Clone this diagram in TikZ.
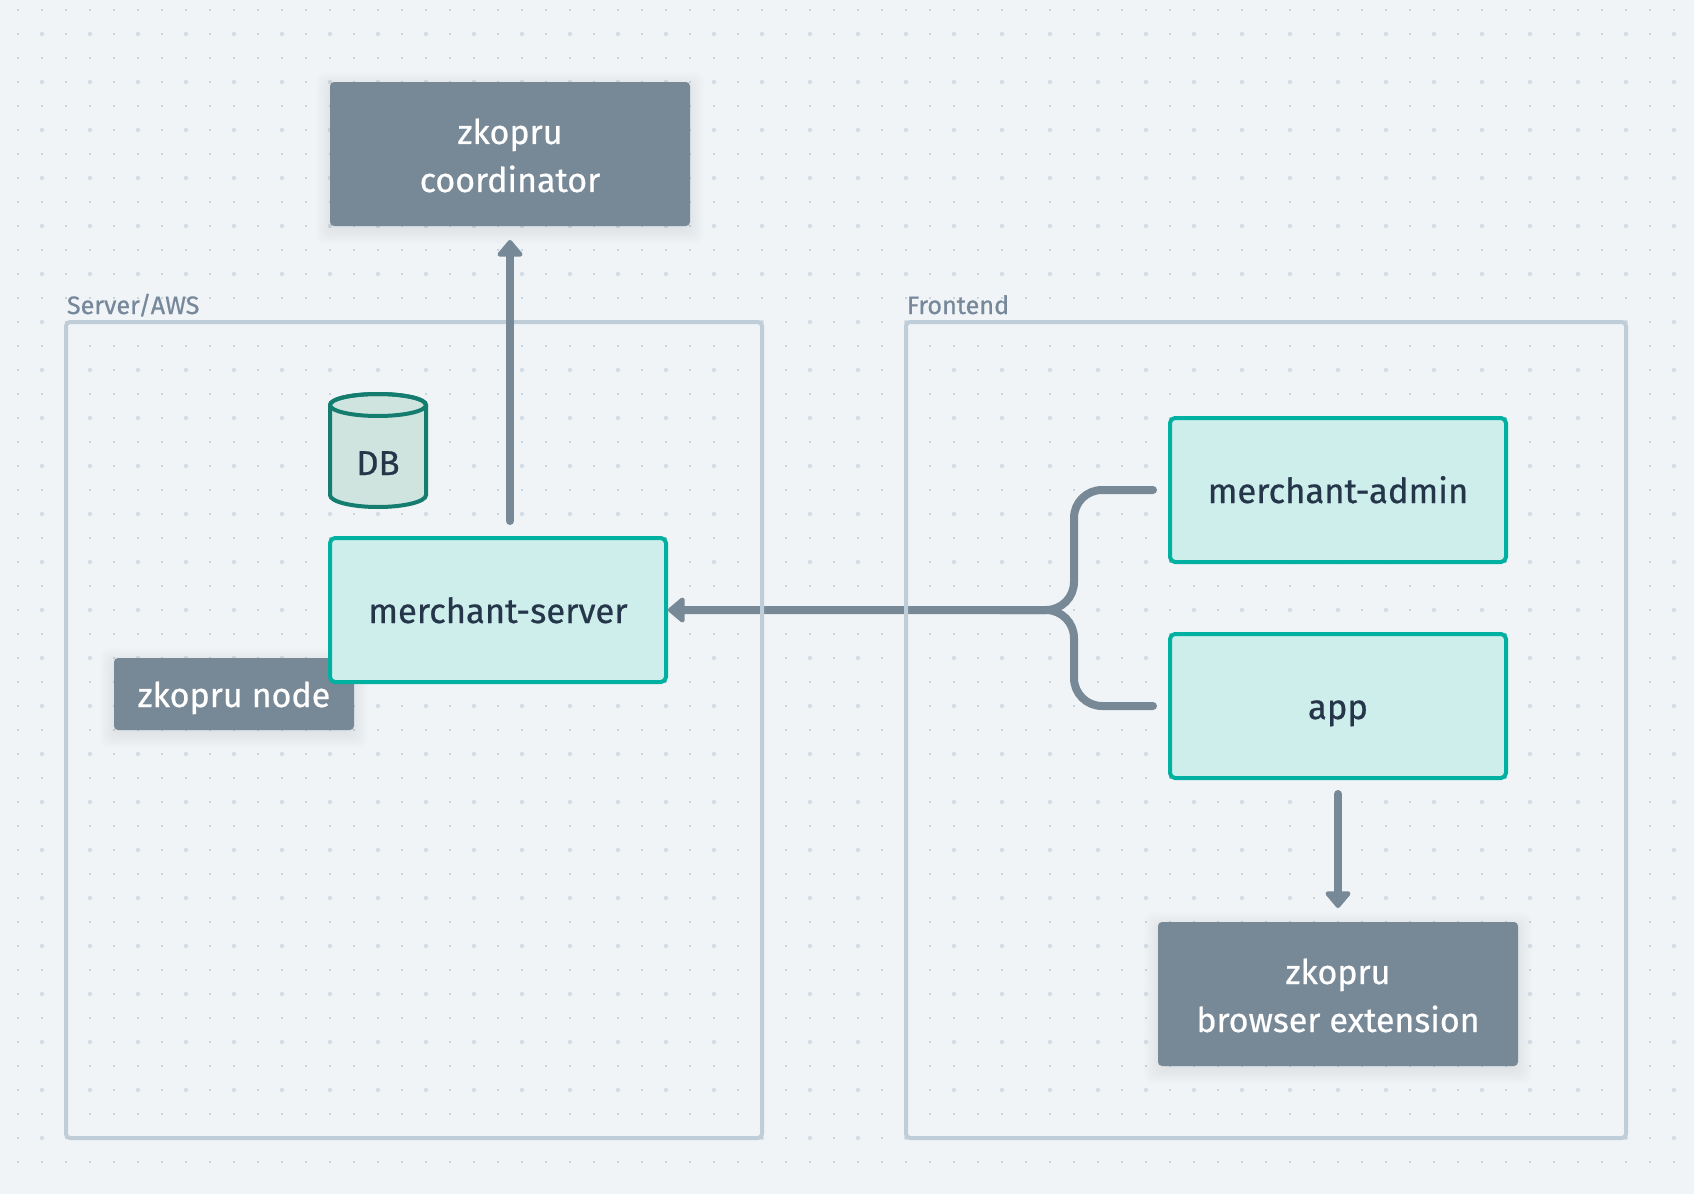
\documentclass[tikz,border=0pt]{standalone}
\usepackage{fontspec}
\setmainfont{Fira Sans}[FakeBold=0.6]
\usetikzlibrary{arrows.meta}
\definecolor{bgc}{HTML}{F0F4F7}
\definecolor{dotc}{HTML}{CBD5DF}
\definecolor{bigdotc}{HTML}{D3DDE7}
\definecolor{slatec}{HTML}{778896}
\definecolor{tealc}{HTML}{00B0A0}
\definecolor{tealfill}{HTML}{CEEEEC}
\definecolor{framec}{HTML}{BFCDD8}
\definecolor{inkc}{HTML}{25364A}
\definecolor{labelc}{HTML}{76889A}
\definecolor{dbline}{HTML}{147D6F}
\definecolor{dbfill}{HTML}{CFE4DF}
\newcommand{\softshadow}[4]{%
  \foreach \g in {-4,-2,...,14}
    \fill[black,opacity=0.009,rounded corners=4pt]
      (#1-\g,#2-\g+4) rectangle (#3+\g,#4+\g+4);}
\tikzset{
  graybox/.style={rectangle,fill=slatec,rounded corners=2pt,inner sep=0pt,outer sep=0pt,
    text=white,font=\fontsize{17}{24}\selectfont,align=center},
  tealbox/.style={rectangle,draw=tealc,fill=tealfill,line width=2pt,rounded corners=2.5pt,
    inner sep=0pt,text=inkc,font=\fontsize{17.3}{24}\selectfont,
    minimum width=168pt,minimum height=72pt,text height=13pt,text depth=0pt},
  groupframe/.style={rectangle,draw=framec,line width=2pt,rounded corners=2pt,inner sep=0pt},
  grouplabel/.style={anchor=base west,inner sep=0pt,text=labelc,font=\fontsize{12.6}{14}\selectfont},
  conn/.style={draw=slatec,line width=4pt,line cap=round},
  tip/.style={-{Triangle[length=9pt,width=14.5pt,round]}},
}
\begin{document}
\begin{tikzpicture}[x=0.5pt,y=-0.5pt]
\useasboundingbox (0,0) rectangle (1694,1194);
\fill[bgc] (0,0) rectangle (1694,1194);
% dot grid
\foreach \x in {18,42,...,1674}
  \foreach \y in {10,34,...,1162}
    \fill[dotc] (\x-1,\y-1) rectangle ++(2,2);
\foreach \x in {42,90,...,1674}
  \foreach \y in {34,82,...,1162}
    \fill[bigdotc] (\x,\y) circle (1.1pt);
% shadows
\softshadow{330}{82}{690}{226}
\softshadow{114}{658}{354}{730}
\softshadow{1158}{922}{1518}{1066}
% gray boxes
\node[graybox,minimum width=180pt,minimum height=72pt] (coordinator) at (510,154) {\rule{0pt}{14.2pt}zkopru\\coordinator};
\node[graybox,minimum width=120pt,minimum height=36pt,text height=13pt,text depth=0pt] (zknode) at (234,694) {zkopru node};
\node[graybox,minimum width=180pt,minimum height=72pt] (extension) at (1338,994) {\rule{0pt}{14.2pt}zkopru\\browser extension};
% teal boxes
\node[tealbox] (server) at (498,610) {merchant-server};
\node[tealbox] (admin) at (1338,490) {merchant-admin};
\node[tealbox] (app) at (1338,706) {app};
% database
\draw[draw=dbline,fill=dbfill,line width=2pt] (330,405) -- (330,495)
  arc[start angle=180,end angle=360,x radius=24pt,y radius=6pt] -- (426,405)
  arc[start angle=0,end angle=180,x radius=24pt,y radius=5.5pt] -- cycle;
\draw[draw=dbline,line width=2pt] (378,405) ellipse[x radius=24pt,y radius=5.5pt];
\node[inner sep=0pt,anchor=base,text=inkc,font=\fontsize{17.3}{24}\selectfont] (db) at (378,475) {DB};
% connectors under the frames
\coordinate (junction) at (1074,610);
\draw[conn,rounded corners=14pt,tip,shorten <=7.5pt] (admin.west) -| (junction) -- (server.east);
\draw[conn,rounded corners=14pt,shorten <=7.5pt] (app.west) -| (junction) -- (1000,610);
% group frames
\node[groupframe,minimum width=348pt,minimum height=408pt] (serverframe) at (414,730) {};
\node[groupframe,minimum width=360pt,minimum height=408pt] (frontframe) at (1266,730) {};
\node[grouplabel] (serverlabel) at (66.5,314) {Server/AWS};
\node[grouplabel] (frontlabel) at (906.5,314) {Frontend};
% connectors over the frames
\draw[conn,tip,shorten <=7.5pt,shorten >=7pt] (coordinator.south |- server.north) -- (coordinator.south);
\draw[conn,tip,shorten <=7pt,shorten >=7pt] (app.south) -- (extension.north);
\end{tikzpicture}
\end{document}
